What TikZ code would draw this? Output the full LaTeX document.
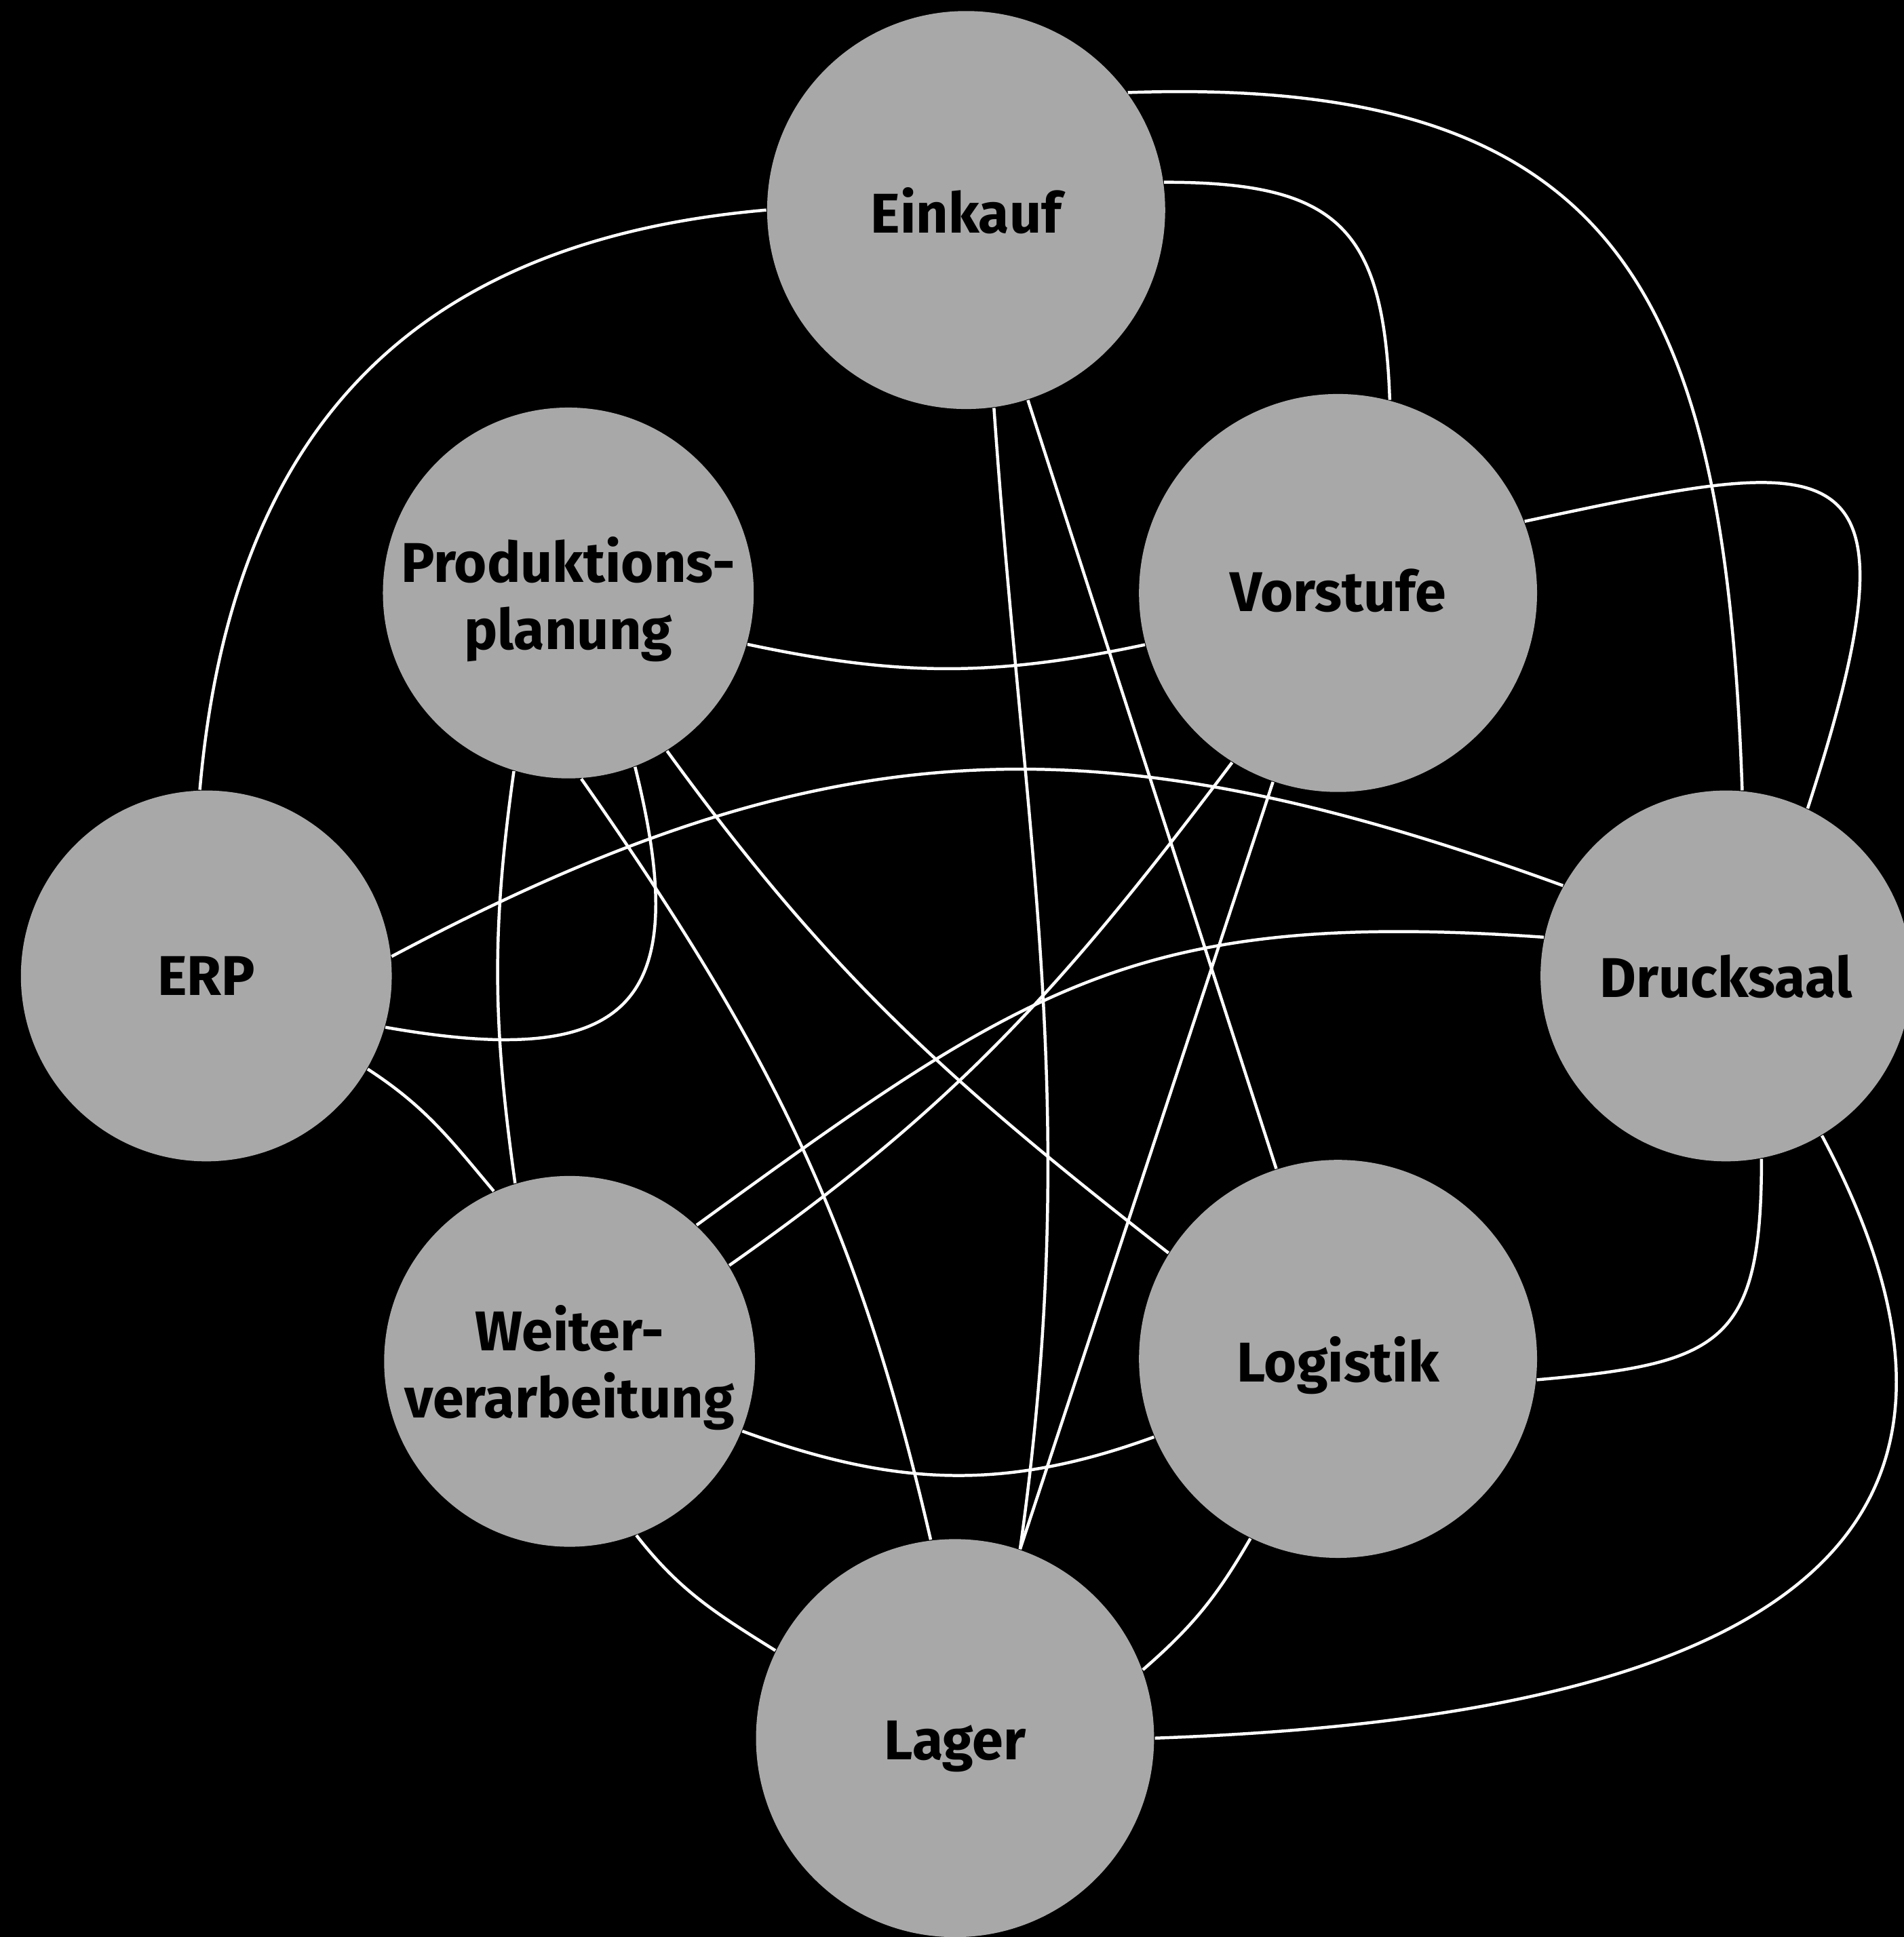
\documentclass[tikz,border=0pt]{standalone}
\usepackage{fontspec}
\setmainfont{Fira Sans}
\definecolor{kreis}{RGB}{168,168,168}
\begin{document}
\begin{tikzpicture}[x=0.01cm, y=0.01cm,
    abt/.style={circle, fill=kreis, inner sep=0pt, align=center, text depth=0pt,
      font=\fontsize{12.9}{15.4}\selectfont\bfseries},
    gross/.style={abt, minimum size=3.22cm},
    klein/.style={abt, minimum size=3cm},
    verb/.style={draw=white, line width=0.7pt}]
    % Hintergrund
    \fill[black] (0,0) rectangle (1541,-1568);
    \useasboundingbox (0,0) rectangle (1541,-1568);
    % Abteilungen
    \node[gross] (ein) at (782,-170) {Einkauf};
    \node[gross, text height=0.86em] (vor) at (1083,-480) {Vorstufe};
    \node[klein] (pro) at (460,-480) {Produktions-\\planung};
    \node[klein] (erp) at (167,-790) {ERP};
    \node[klein] (dru) at (1397,-790) {Drucksaal};
    \node[klein] (wei) at (461,-1102) {Weiter-\\verarbeitung};
    \node[gross] (log) at (1083,-1100) {Logistik};
    \node[gross, text height=0.98em] (lag) at (773,-1407) {Lager};
    % Verbindungen Einkauf
    \draw[verb] (ein.180) to[out=185, in=85, distance=2.9cm] (erp.92);
    \draw[verb] (ein.36) to[out=2, in=92, distance=4cm] (dru.85);
    \draw[verb] (ein.8) to[out=0, in=92, distance=1.4cm] (vor.75);
    \draw[verb] (ein.-82) to[out=-86, in=82] (lag.71);
    \draw[verb] (ein.-72) -- (log.108);
    % Verbindungen Produktionsplanung
    \draw[verb] (pro.-16) to[out=-12, in=192] (vor.195);
    \draw[verb] (pro.-69) to[out=-76, in=-10, distance=2cm] (erp.-16);
    \draw[verb] (pro.253) to[out=262, in=98] (wei.107);
    \draw[verb] (pro.-86) to[out=-55, in=103] (lag.97);
    \draw[verb] (pro.-58) to[out=-54, in=142] (log.148);
    % Verbindungen Vorstufe
    \draw[verb] (vor.21) to[out=12, in=72, out distance=2.6cm, in distance=3.2cm] (dru.64);
    \draw[verb] (vor.238) to[out=233, in=35] (wei.31);
    \draw[verb] (vor.251) -- (lag.71);
    % Verbindungen ERP und Drucksaal
    \draw[verb] (erp.6) to[out=28, in=160, distance=4cm] (dru.151);
    \draw[verb] (erp.-30) to[out=-33, in=130] (wei.114);
    \draw[verb] (dru.168) to[out=176, in=36, distance=3.3cm] (wei.47);
    \draw[verb] (dru.-79) to[out=-90, in=5, distance=1.5cm] (log.-6);
    \draw[verb] (dru.-59) to[out=-62, in=2, out distance=3.6cm, in distance=5.2cm] (lag.0);
    % Verbindungen unten
    \draw[verb] (wei.-22) to[out=-20, in=-160] (log.203);
    \draw[verb] (wei.-69) to[out=-52, in=148] (lag.154);
    \draw[verb] (log.244) to[out=-120, in=41] (lag.20);
\end{tikzpicture}
\end{document}
